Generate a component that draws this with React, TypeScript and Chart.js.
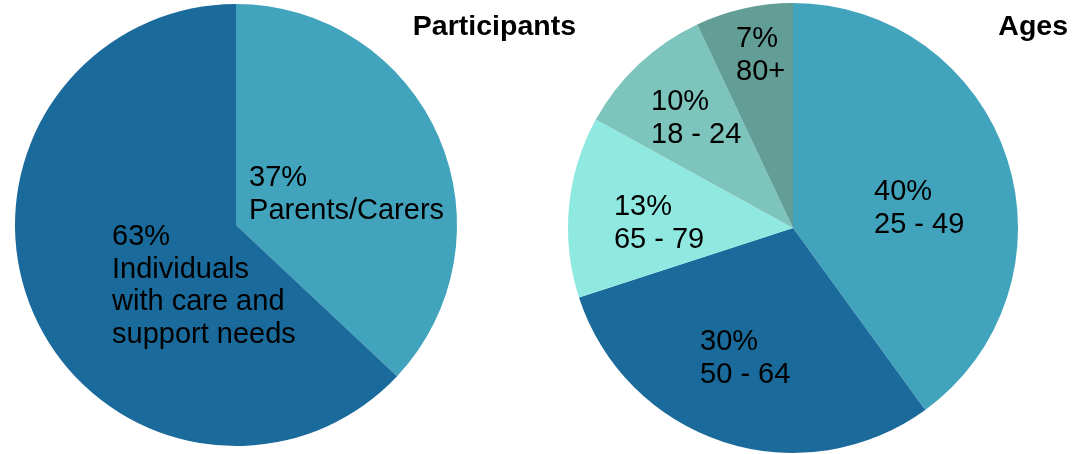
import React, { useEffect, useRef } from "react";
import { Chart, registerables } from "chart.js";

Chart.register(...registerables);

// ---- Data ----
const participantCategories = [["Parents/Carers"], ["Individuals", "with care and", "support needs"]];
const participantValues = [37, 63];
const participantColors = ["#41A3BC", "#1A6A9B"];

const ageCategories = [["25 - 49"], ["50 - 64"], ["65 - 79"], ["18 - 24"], ["80+"]];
const ageValues = [40, 30, 13, 10, 7];
const ageColors = ["#41A3BC", "#1A6A9B", "#90E9E0", "#7DC4BC", "#629E96"];

// ---- Label layout (fractions of pie radius, relative to the pie centre) ----
const participantLabelAnchors = [[0.059, -0.176], [-0.561, 0.09]];
const ageLabelAnchors = [[0.36, -0.124], [-0.413, 0.542], [-0.796, -0.058], [-0.631, -0.524], [-0.253, -0.804]];

const FONT = '"Liberation Sans", Arial, Helvetica, sans-serif';

function makePlugin(title: string, titleRight: number, anchors: number[][], cats: string[][], values: number[]) {
  return {
    id: "labelsAndTitle",
    afterDraw(chart: any) {
      const ctx = chart.ctx;
      ctx.save();
      ctx.fillStyle = "#000";
      ctx.textBaseline = "alphabetic";
      ctx.textAlign = "left";
      ctx.font = `29px ${FONT}`;
      const meta = chart.getDatasetMeta(0);
      meta.data.forEach((arc: any, i: number) => {
        const p = arc.getProps(["x", "y", "outerRadius"], true);
        const lines = [`${values[i]}%`, ...cats[i]];
        const bx = p.x + anchors[i][0] * p.outerRadius;
        const by = p.y + anchors[i][1] * p.outerRadius;
        lines.forEach((ln, k) => ctx.fillText(ln, bx, by + k * 32.8));
      });
      ctx.font = `bold 28.5px ${FONT}`;
      ctx.textAlign = "right";
      ctx.fillText(title, titleRight, 35);
      ctx.restore();
    },
  };
}

function PieCanvas(props: {
  left: number; width: number; padding: any; title: string; titleRight: number;
  values: number[]; colors: string[]; cats: string[][]; anchors: number[][];
}) {
  const ref = useRef<HTMLCanvasElement | null>(null);
  useEffect(() => {
    if (!ref.current) return;
    const chart = new Chart(ref.current, {
      type: "pie",
      data: {
        labels: props.cats.map((c) => c.join(" ")),
        datasets: [{ data: props.values, backgroundColor: props.colors, borderWidth: 0 }],
      },
      options: {
        responsive: false,
        animation: false,
        layout: { padding: props.padding },
        plugins: { legend: { display: false }, tooltip: { enabled: false } },
      },
      plugins: [makePlugin(props.title, props.titleRight, props.anchors, props.cats, props.values)],
    } as any);
    return () => chart.destroy();
  }, []);
  return (
    <canvas
      ref={ref}
      width={props.width}
      height={454}
      style={{ position: "absolute", left: props.left, top: 0, width: props.width, height: 454 }}
    />
  );
}

export default function App() {
  return (
    <div style={{ position: "fixed", left: 0, top: 0, width: 1090, height: 454, background: "#fff" }}>
      <PieCanvas
        left={0}
        width={580}
        padding={{ left: 15, right: 123, top: 4, bottom: 8 }}
        title="Participants"
        titleRight={576}
        values={participantValues}
        colors={participantColors}
        cats={participantCategories}
        anchors={participantLabelAnchors}
      />
      <PieCanvas
        left={560}
        width={530}
        padding={{ left: 8, right: 72, top: 3, bottom: 1 }}
        title="Ages"
        titleRight={508}
        values={ageValues}
        colors={ageColors}
        cats={ageCategories}
        anchors={ageLabelAnchors}
      />
    </div>
  );
}
